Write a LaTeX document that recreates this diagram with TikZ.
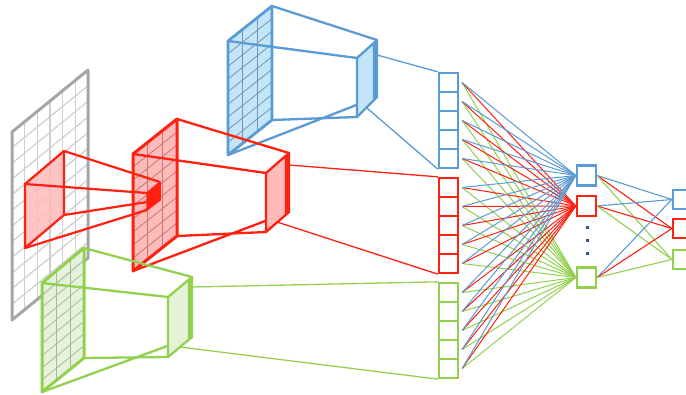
\documentclass[tikz,border=0pt]{standalone}
\usetikzlibrary{calc}
\definecolor{cblue}{HTML}{5B9BD5}
\definecolor{cbluef}{HTML}{C2E6F8}
\definecolor{cbgrid}{HTML}{7A8FB5}
\definecolor{cred}{HTML}{FF2010}
\definecolor{credf}{HTML}{FFBABA}
\definecolor{crgrid}{HTML}{C07878}
\definecolor{cgreen}{HTML}{92D050}
\definecolor{cgreenf}{HTML}{E4F2D8}
\definecolor{cggrid}{HTML}{A8B89A}
\definecolor{cgray}{HTML}{A6A6A6}
\definecolor{cgrayl}{HTML}{CFCFCF}
\definecolor{cdot}{HTML}{2F5597}
\newcommand\pgrid[9]{%
  \foreach \i in {1,...,#6} \draw[#9] ($(#1)!\i/#5!(#2)$) -- ($(#4)!\i/#5!(#3)$);
  \foreach \j in {1,...,#8} \draw[#9] ($(#1)!\j/#7!(#4)$) -- ($(#2)!\j/#7!(#3)$);
}
\tikzset{
  x=1pt,y=-1pt,
  cell/.style={draw=#1, line width=2.3pt, minimum width=19pt, minimum height=19pt, inner sep=0pt, fill=white},
  hid/.style={draw=#1, line width=2.3pt, minimum width=19pt, minimum height=20pt, inner sep=0pt, fill=white},
  border/.style={line width=2.8pt, line join=round},
  frus/.style={line width=2.3pt},
  link/.style={line width=1.3pt},
  fan/.style={line width=1pt},
  outl/.style={line width=1.1pt},
  gridline/.style={line width=0.8pt},
}
\begin{document}
\begin{tikzpicture}
\useasboundingbox (0,0) rectangle (686,394);
\fill[white] (0,0) rectangle (686,394);

% ---------- gray input ----------
\coordinate (gA) at (12,132); \coordinate (gB) at (88,70);
\coordinate (gC) at (88,258); \coordinate (gD) at (12,320);
\fill[white] (gA)--(gB)--(gC)--(gD)--cycle;
\pgrid{gA}{gB}{gC}{gD}{6}{5}{12}{11}{cgrayl,line width=1.2pt}
\draw[cgray,line width=3pt,line join=round] (gA)--(gB)--(gC)--(gD)--cycle;

% red receptive field on input
\coordinate (sA) at (25,184); \coordinate (sB) at (64,151);
\coordinate (sC) at (64,215); \coordinate (sD) at (25,248);
\fill[credf,fill opacity=0.85] (sA)--(sB)--(sC)--(sD)--cycle;
\draw[cred,line width=2.2pt,line join=round] (sA)--(sB)--(sC)--(sD)--cycle;

% ---------- blue layer ----------
\coordinate (bA) at (228,41); \coordinate (bB) at (272,6);
\coordinate (bC) at (272,120); \coordinate (bD) at (228,155);
\fill[cbluef] (bA)--(bB)--(bC)--(bD)--cycle;
\pgrid{bA}{bB}{bC}{bD}{3}{2}{9}{8}{cbgrid,gridline}
\draw[cblue,border] (bA)--(bB)--(bC)--(bD)--cycle;
\coordinate (qA) at (357,58); \coordinate (qB) at (377,40);
\coordinate (qC) at (377,97); \coordinate (qD) at (357,117);
\coordinate (qE) at (374,43); \coordinate (qF) at (374,100);
\draw[cblue,frus] (bA)--(qA) (bB)--(qB) (bC)--(qD) (bD)--(qC);
\fill[cbluef] (qA)--(qE)--(qF)--(qD)--cycle;
\fill[cblue] (qE)--(qB)--(qC)--(qF)--cycle;
\draw[cblue,line width=2.3pt,line join=round] (qA)--(qB)--(qC)--(qD)--cycle (qE)--(qF);
\coordinate (qOut) at (377,55);
\coordinate (qBot) at (367,108);

% ---------- red layer ----------
\coordinate (rA) at (133,154); \coordinate (rB) at (177,119);
\coordinate (rC) at (177,236); \coordinate (rD) at (133,271);
\fill[credf] (rA)--(rB)--(rC)--(rD)--cycle;
\pgrid{rA}{rB}{rC}{rD}{3}{2}{9}{8}{crgrid,gridline}
\draw[cred,border,line width=3pt] (rA)--(rB)--(rC)--(rD)--cycle;
\coordinate (pA) at (266,173); \coordinate (pB) at (289,153);
\coordinate (pC) at (289,212); \coordinate (pD) at (266,232);
\coordinate (pE) at (286,156); \coordinate (pF) at (286,215);
\draw[cred,frus] (rA)--(pA) (rB)--(pB) (rC)--(pD) (rD)--(pC);
\fill[credf] (pA)--(pE)--(pF)--(pD)--cycle;
\fill[cred] (pE)--(pB)--(pC)--(pF)--cycle;
\draw[cred,line width=2.3pt,line join=round] (pA)--(pB)--(pC)--(pD)--cycle (pE)--(pF);
\coordinate (pOut) at (289,165);
\coordinate (pBot) at (277,222);

% receptive field lines to the red layer
\coordinate (tA) at (147,193); \coordinate (tB) at (160,182);
\coordinate (tC) at (160,200); \coordinate (tD) at (147,210);
\draw[cred,line width=2.2pt] (sA)--(tA) (sB)--(tB) (sC)--(tC) (sD)--(tD);
\fill[cred] (tA)--(tB)--(tC)--(tD)--cycle;
\draw[cred,line width=1.5pt,line join=round] (tA)--(tB)--(tC)--(tD)--cycle;

% ---------- green layer ----------
\coordinate (eA) at (42,283); \coordinate (eB) at (84,248);
\coordinate (eC) at (84,358); \coordinate (eD) at (42,392);
\fill[cgreenf,fill opacity=0.9] (eA)--(eB)--(eC)--(eD)--cycle;
\pgrid{eA}{eB}{eC}{eD}{3}{2}{9}{8}{cggrid,gridline}
\draw[cgreen,border,line width=3pt] (eA)--(eB)--(eC)--(eD)--cycle;
\coordinate (fA) at (168,297); \coordinate (fB) at (192,277);
\coordinate (fC) at (192,337); \coordinate (fD) at (168,357);
\coordinate (fE) at (189,280); \coordinate (fF) at (189,340);
\draw[cgreen,frus] (eA)--(fA) (eB)--(fB) (eC)--(fD) (eD)--(fC);
\fill[cgreenf] (fA)--(fE)--(fF)--(fD)--cycle;
\fill[cgreen] (fE)--(fB)--(fC)--(fF)--cycle;
\draw[cgreen,line width=2.3pt,line join=round] (fA)--(fB)--(fC)--(fD)--cycle (fE)--(fF);
\coordinate (fOut) at (192,287);
\coordinate (fBot) at (180,347);

% ---------- flattened columns ----------
\foreach \k in {1,...,5}{
  \node[cell=cblue]  (b\k) at (448.5,{82.5+19*(\k-1)}) {};
  \node[cell=cred]   (r\k) at (448.5,{187.5+19*(\k-1)}) {};
  \node[cell=cgreen] (g\k) at (448.5,{292.5+19*(\k-1)}) {};
}
\draw[cblue,link]  (qOut)--(b1.north west) (qBot)--(b5.south west);
\draw[cred,link]   (pOut)--(r1.north west) (pBot)--(r5.south west);
\draw[cgreen,link] (fOut)--(g1.north west) (fBot)--(g5.south west);

% ---------- hidden and output nodes ----------
\node[hid=cblue]  (hb) at (586.5,175.5) {};
\node[hid=cred]   (hr) at (586.5,206) {};
\node[hid=cgreen] (hg) at (586.5,277.5) {};
\foreach \y in {227,240,253} \fill[cdot] (585.5,\y-1.5) rectangle (588.5,\y+1.5);

\foreach \c in {b,r,g}{
  \foreach \k in {1,...,5}{
    \draw[cgreen,fan] ([xshift=3pt]\c\k.east) -- (hg.west);
    \draw[cred,fan]   ([xshift=3pt]\c\k.east) -- (hr.west);
    \draw[cblue,fan]  ([xshift=3pt]\c\k.east) -- (hb.west);
  }
}

\node[cell=cblue]  (ob) at (682.5,199.5) {};
\node[cell=cred]   (or) at (682.5,228.5) {};
\node[cell=cgreen] (og) at (682.5,259.5) {};
\foreach \h in {hb,hr,hg}{
  \draw[cblue,outl]  (\h.east) -- (ob.west);
  \draw[cred,outl]   (\h.east) -- (or.west);
  \draw[cgreen,outl] (\h.east) -- (og.west);
}
\end{tikzpicture}
\end{document}
